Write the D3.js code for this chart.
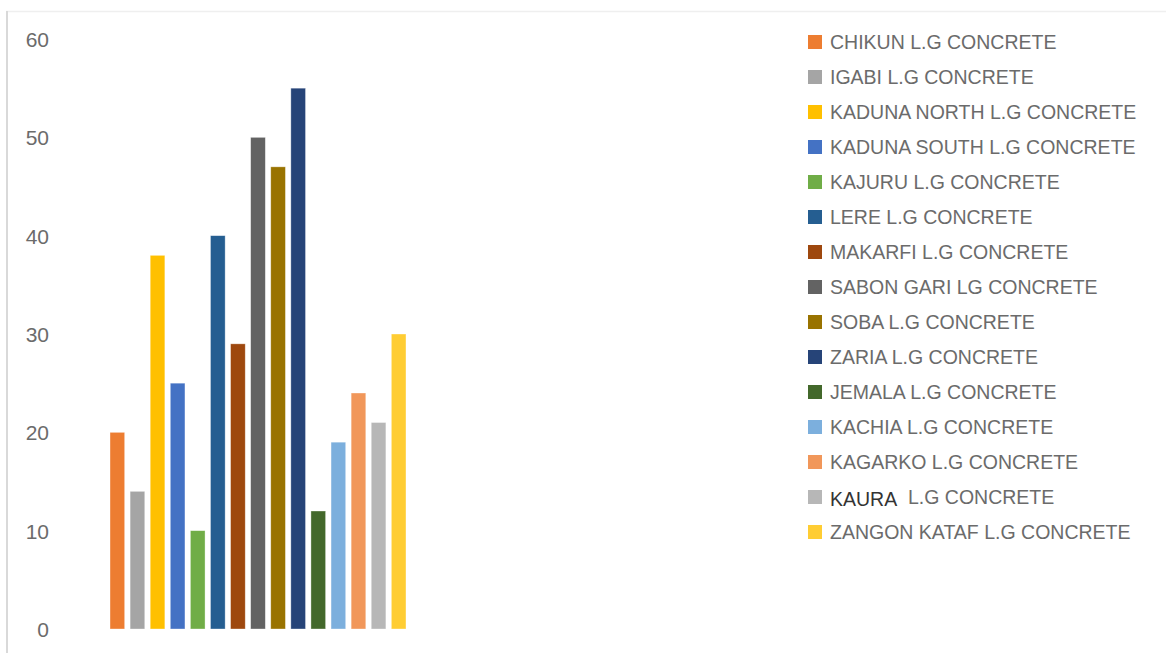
<!DOCTYPE html>
<html>
<head>
<meta charset="utf-8">
<script src="https://cdn.jsdelivr.net/npm/d3@7"></script>
<style>
  body { margin: 0; background: #fff; }
  text { font-family: "Liberation Sans", Arial, sans-serif; }
</style>
</head>
<body>
<div id="chart"></div>
<script>
// datos del grafico
const categories = [
  "CHIKUN L.G CONCRETE", "IGABI L.G CONCRETE", "KADUNA NORTH L.G CONCRETE",
  "KADUNA SOUTH L.G CONCRETE", "KAJURU L.G CONCRETE", "LERE L.G CONCRETE",
  "MAKARFI L.G CONCRETE", "SABON GARI LG CONCRETE", "SOBA L.G CONCRETE",
  "ZARIA L.G CONCRETE", "JEMALA L.G CONCRETE", "KACHIA L.G CONCRETE",
  "KAGARKO L.G CONCRETE", "KAURA L.G CONCRETE", "ZANGON KATAF L.G CONCRETE"
]
const values = [20, 14, 38, 25, 10, 40, 29, 50, 47, 55, 12, 19, 24, 21, 30]
const colors = [
  "#ED7D31", "#A5A5A5", "#FFC000", "#4472C4", "#70AD47", "#255E91",
  "#9E480E", "#636363", "#997300", "#264478", "#43682B", "#7CAFDD",
  "#F1975A", "#B7B7B7", "#FFCD33"
]
const yTicks = [0, 10, 20, 30, 40, 50, 60]

const width = 1169
const height = 653

const svg = d3.select("div#chart").append("svg").attr("width", width).attr("height", height)

// marco del area del grafico
svg.append("line").attr("x1", 6).attr("x2", 1166).attr("y1", 11.5).attr("y2", 11.5)
    .style("stroke", "#efefef").style("stroke-width", 1.5)
svg.append("line").attr("x1", 7).attr("x2", 7).attr("y1", 11).attr("y2", height)
    .style("stroke", "#d9d9d9").style("stroke-width", 2)

// escalas
const x = d3.scaleBand().domain(categories).range([107, 409]).paddingInner(0.27).paddingOuter(0.15)
const y = d3.scaleLinear().domain([0, 60]).range([629, 39])

const yAxis = d3.axisLeft(y).tickValues(yTicks).tickSize(0).tickPadding(0)
const yAxisGroup = svg.append("g").attr("transform", "translate(49,0)").call(yAxis)
yAxisGroup.select(".domain").remove()
yAxisGroup.selectAll("text")
    .style("font-family", "'Liberation Sans', Arial, sans-serif")
    .style("font-size", "21px")
    .style("fill", "#6b6b6b")
    .attr("dy", "0.35em")

// barras
svg.append("g").selectAll(".bar").data(values).enter()
    .append("rect")
    .attr("class", "bar")
    .attr("x", (d, i) => x(categories[i]))
    .attr("y", d => y(d))
    .attr("width", x.bandwidth())
    .attr("height", d => y(0) - y(d))
    .style("fill", (d, i) => colors[i])
    .style("stroke", "#ffffff")
    .style("stroke-opacity", 0.5)
    .style("stroke-width", 0.7)

// leyenda
const legend = svg.append("g").attr("transform", "translate(808,42)")
const rows = legend.selectAll(".row").data(categories).enter()
    .append("g").attr("class", "row")
    .attr("transform", (d, i) => `translate(0,${i * 35})`)

rows.append("rect")
    .attr("x", 0).attr("y", -7)
    .attr("width", 14).attr("height", 14)
    .style("fill", (d, i) => colors[i])

rows.each(function(d, i) {
  const t = d3.select(this).append("text")
      .attr("x", 22).attr("dy", "0.36em")
      .style("font-size", "19.5px")
      .style("fill", "#6b6b6b")
  if (d.startsWith("KAURA")) {
    // esta etiqueta tiene otro estilo en el original
    t.append("tspan").text("KAURA").style("fill", "#333333").style("font-size", "19.5px").attr("dy", "0.45em")
    t.append("tspan").attr("x", 100).attr("dy", "-0.1em").text("L.G CONCRETE")
  } else {
    t.text(d)
  }
})
</script>
</body>
</html>
